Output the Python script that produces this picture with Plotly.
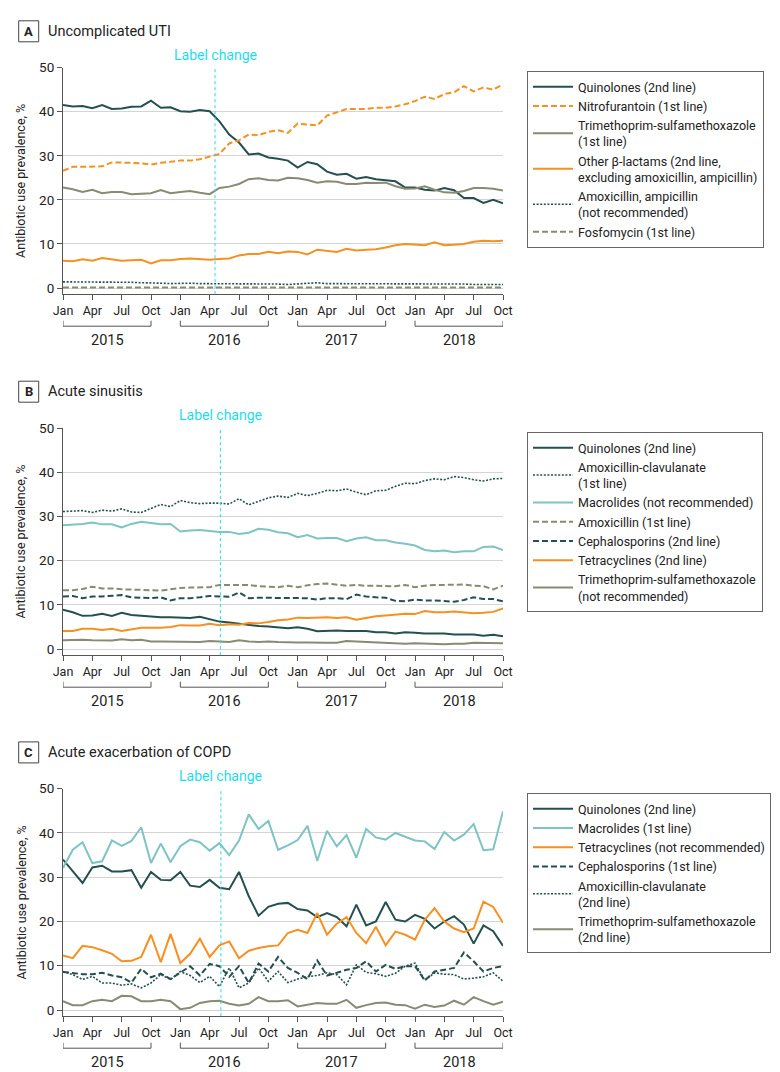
import plotly.graph_objects as go

W, H = 780, 1072
FONT = "Roboto, Arial, sans-serif"
MONTH_TICKS = ["Jan", "Apr", "Jul", "Oct"]
YEARS = ["2015", "2016", "2017", "2018"]

# ---------------- Panel A: Uncomplicated UTI ----------------
uti_quinolones = [41.5, 41.2, 41.3, 40.8, 41.5, 40.6, 40.7, 41.1, 41.2, 42.5, 40.9, 41.0, 40.1, 40.0, 40.4, 40.1,
                  37.8, 34.8, 33.0, 30.3, 30.5, 29.6, 29.3, 28.9, 27.3, 28.6, 28.1, 26.4, 25.7, 25.9, 24.8, 25.2,
                  24.7, 24.4, 24.2, 22.8, 22.8, 22.3, 22.1, 22.7, 22.2, 20.4, 20.4, 19.3, 20.0, 19.2]
uti_nitrofurantoin = [26.6, 27.5, 27.5, 27.5, 27.6, 28.5, 28.5, 28.4, 28.3, 28.0, 28.4, 28.6, 28.9, 28.9, 29.2, 29.8,
                      30.4, 32.8, 33.5, 34.8, 34.7, 35.4, 35.8, 35.2, 37.3, 37.1, 36.9, 39.1, 39.9, 40.6, 40.6, 40.6,
                      40.9, 40.9, 41.2, 41.7, 42.4, 43.4, 42.9, 44.0, 44.4, 45.8, 44.6, 45.5, 45.0, 46.2]
uti_tmp_smx = [22.8, 22.4, 21.8, 22.3, 21.5, 21.8, 21.8, 21.3, 21.4, 21.5, 22.2, 21.5, 21.8, 22.0, 21.6, 21.3,
               22.7, 23.0, 23.6, 24.7, 24.9, 24.5, 24.4, 25.0, 24.9, 24.5, 23.9, 24.2, 24.1, 23.6, 23.6, 23.9,
               23.8, 23.9, 23.1, 22.5, 22.6, 23.1, 22.3, 21.7, 21.6, 22.0, 22.7, 22.7, 22.5, 22.1]
uti_other_blactams = [6.2, 6.1, 6.5, 6.2, 6.8, 6.5, 6.2, 6.3, 6.4, 5.6, 6.3, 6.3, 6.6, 6.7, 6.6, 6.4,
                      6.6, 6.7, 7.4, 7.7, 7.7, 8.2, 7.9, 8.3, 8.2, 7.6, 8.7, 8.5, 8.2, 8.9, 8.5, 8.7,
                      8.8, 9.2, 9.7, 10.0, 9.9, 9.7, 10.4, 9.7, 9.8, 10.0, 10.5, 10.7, 10.6, 10.7]
uti_amox_amp = [1.4, 1.4, 1.4, 1.3, 1.3, 1.3, 1.3, 1.3, 1.2, 1.2, 1.1, 1.0, 1.1, 1.1, 1.0, 1.0,
                1.0, 1.0, 0.9, 1.0, 1.0, 0.9, 0.9, 0.8, 0.9, 1.0, 1.2, 1.0, 1.0, 1.0, 0.9, 0.9,
                0.9, 0.9, 0.9, 0.9, 1.0, 0.9, 0.9, 0.9, 0.9, 0.9, 0.8, 0.8, 0.9, 0.8]
uti_fosfomycin = [0.1, 0.1, 0.1, 0.1, 0.1, 0.1, 0.1, 0.1, 0.1, 0.1, 0.1, 0.1, 0.1, 0.1, 0.1, 0.1,
                  0.1, 0.1, 0.1, 0.1, 0.1, 0.1, 0.1, 0.1, 0.1, 0.1, 0.1, 0.1, 0.1, 0.1, 0.1, 0.1,
                  0.1, 0.1, 0.1, 0.1, 0.1, 0.1, 0.1, 0.1, 0.1, 0.1, 0.1, 0.1, 0.1, 0.1]

# ---------------- Panel B: Acute sinusitis ----------------
sin_quinolones = [8.9, 8.3, 7.5, 7.6, 8.0, 7.5, 8.2, 7.7, 7.5, 7.3, 7.2, 7.2, 7.1, 7.0, 7.3, 6.7,
                  6.2, 6.0, 5.7, 5.4, 5.2, 5.1, 4.9, 4.7, 4.9, 4.6, 4.0, 4.1, 4.2, 4.1, 4.1, 4.1,
                  3.8, 3.8, 3.5, 3.8, 3.7, 3.5, 3.5, 3.5, 3.3, 3.3, 3.3, 3.0, 3.2, 2.9]
sin_amox_clav = [31.1, 31.2, 31.3, 30.9, 31.4, 31.2, 31.7, 31.0, 30.9, 31.8, 32.7, 32.2, 33.6, 33.1, 32.9, 33.0,
                 33.0, 32.8, 34.0, 32.6, 33.4, 34.2, 34.6, 34.3, 35.2, 34.7, 35.2, 35.9, 35.8, 36.2, 35.5, 34.9,
                 35.8, 35.9, 36.8, 37.5, 37.4, 38.1, 38.5, 38.3, 39.0, 38.8, 38.3, 38.0, 38.5, 38.6]
sin_macrolides = [28.0, 28.1, 28.3, 28.6, 28.2, 28.2, 27.5, 28.3, 28.8, 28.5, 28.2, 28.3, 26.6, 26.8, 26.9, 26.7,
                  26.5, 26.5, 26.0, 26.3, 27.2, 27.0, 26.4, 26.2, 25.3, 25.8, 25.0, 25.1, 25.1, 24.4, 25.0, 25.3,
                  24.6, 24.6, 24.1, 23.8, 23.4, 22.4, 22.1, 22.3, 21.9, 22.1, 22.1, 23.1, 23.2, 22.4]
sin_amoxicillin = [13.3, 13.3, 13.6, 14.1, 13.7, 13.7, 13.5, 13.5, 13.4, 13.3, 13.2, 13.5, 13.8, 13.9, 14.0, 14.0,
                   14.5, 14.5, 14.5, 14.5, 14.2, 14.1, 14.0, 14.3, 14.0, 14.4, 14.7, 14.8, 14.5, 14.3, 14.5, 14.3,
                   14.3, 14.2, 14.2, 14.5, 14.0, 14.3, 14.5, 14.5, 14.6, 14.6, 14.3, 14.2, 13.5, 14.3]
sin_cephalosporins = [11.9, 12.0, 11.5, 11.9, 11.9, 12.0, 12.2, 11.7, 11.6, 11.5, 11.7, 11.0, 11.5, 11.5, 11.7, 12.0,
                      11.9, 11.8, 12.8, 11.5, 11.6, 11.6, 11.6, 11.5, 11.5, 11.5, 11.2, 11.5, 11.5, 11.3, 12.3, 11.9,
                      11.7, 11.6, 10.9, 10.8, 11.2, 11.0, 11.0, 10.9, 10.7, 11.1, 11.7, 11.3, 11.3, 10.8]
sin_tetracyclines = [4.1, 4.1, 4.6, 4.6, 4.3, 4.6, 4.1, 4.5, 4.8, 4.8, 4.8, 5.0, 5.4, 5.3, 5.3, 5.7,
                     5.4, 5.6, 5.5, 5.9, 5.8, 6.1, 6.5, 6.7, 7.1, 7.0, 7.1, 7.2, 7.0, 7.2, 6.6, 7.0,
                     7.4, 7.6, 7.8, 8.0, 7.9, 8.6, 8.3, 8.3, 8.5, 8.3, 8.1, 8.2, 8.4, 9.2]
sin_tmp_smx = [2.0, 2.1, 2.1, 2.0, 1.9, 1.9, 2.2, 2.0, 2.1, 1.7, 1.7, 1.7, 1.7, 1.7, 1.6, 1.8,
               1.7, 1.6, 2.0, 1.7, 1.6, 1.7, 1.6, 1.5, 1.5, 1.5, 1.4, 1.4, 1.4, 1.8, 1.7, 1.6,
               1.6, 1.5, 1.4, 1.2, 1.3, 1.2, 1.1, 1.1, 1.2, 1.2, 1.4, 1.4, 1.3, 1.3]

# ---------------- Panel C: Acute exacerbation of COPD ----------------
copd_quinolones = [34.0, 31.4, 28.7, 32.2, 32.6, 31.3, 31.3, 31.6, 27.6, 31.2, 29.4, 29.3, 31.2, 28.1, 27.8, 29.4,
                   27.6, 27.3, 31.2, 25.7, 21.3, 23.3, 24.0, 24.2, 22.8, 22.5, 21.0, 21.9, 21.0, 18.9, 23.8, 19.1,
                   20.0, 24.4, 20.4, 20.0, 21.5, 20.6, 18.4, 20.0, 21.2, 19.3, 15.0, 19.1, 17.8, 14.5]
copd_macrolides = [32.1, 36.2, 37.9, 33.2, 33.6, 38.3, 37.1, 38.2, 41.3, 33.2, 37.6, 33.4, 37.0, 38.5, 37.9, 36.0,
                   37.7, 35.0, 38.3, 44.2, 40.9, 42.7, 36.2, 37.2, 38.4, 41.6, 33.7, 40.5, 37.0, 39.5, 34.4, 40.9,
                   39.0, 38.5, 40.0, 39.2, 38.3, 38.1, 36.4, 40.2, 38.3, 39.6, 42.0, 36.1, 36.3, 44.9]
copd_tetracyclines = [12.3, 11.7, 14.5, 14.2, 13.5, 12.7, 11.0, 11.1, 12.0, 17.0, 10.8, 17.2, 10.6, 12.7, 16.1, 12.0,
                      14.6, 15.5, 11.7, 13.4, 14.0, 14.4, 14.6, 17.4, 18.1, 17.4, 21.9, 17.0, 19.5, 21.0, 17.4, 15.1,
                      18.8, 14.6, 17.7, 17.0, 15.9, 20.4, 23.0, 20.0, 18.4, 17.6, 18.4, 24.5, 23.3, 19.7]
copd_cephalosporins = [8.6, 8.4, 8.1, 8.1, 8.4, 7.8, 7.4, 6.2, 9.3, 7.4, 8.2, 7.0, 8.5, 9.9, 7.8, 10.4,
                       9.9, 7.5, 9.9, 6.1, 10.5, 8.7, 12.0, 9.5, 8.4, 7.0, 11.2, 7.8, 8.4, 9.1, 9.5, 11.0,
                       8.7, 10.2, 9.3, 9.9, 9.9, 6.7, 8.7, 9.1, 9.5, 13.0, 11.0, 8.7, 9.5, 9.9]
copd_amox_clav = [8.7, 8.0, 6.9, 7.6, 6.1, 6.1, 5.6, 5.9, 5.0, 6.1, 8.0, 6.9, 8.7, 7.8, 6.2, 7.6,
                  5.3, 9.5, 5.0, 6.1, 9.5, 6.5, 8.7, 6.2, 7.0, 7.5, 7.8, 8.4, 8.0, 5.7, 10.2, 8.5,
                  8.2, 7.6, 8.3, 9.9, 10.6, 6.7, 8.4, 8.1, 8.0, 7.0, 7.2, 7.5, 8.4, 6.5]
copd_tmp_smx = [2.0, 1.1, 1.1, 2.0, 2.3, 2.0, 3.2, 3.1, 2.0, 2.0, 2.3, 2.0, 0.2, 0.5, 1.6, 2.0,
                2.1, 1.4, 1.0, 1.4, 2.9, 2.0, 2.0, 2.2, 0.8, 1.2, 1.6, 1.4, 1.4, 2.3, 0.5, 1.1,
                1.6, 1.7, 1.2, 1.1, 0.3, 1.2, 0.7, 1.0, 2.1, 1.2, 2.9, 2.0, 1.2, 1.9]

# month index of the FDA label change line in each panel
LABEL_CHANGE = {"A": 15.55, "B": 16.1, "C": 16.15}

# ---------------- styles ----------------
DARK = "#24504e"
ORANGE = "#f7901e"
OLIVE = "#8a8a74"
LTEAL = "#7ec4c2"
CYAN = "#1fdcec"
DASH = "6px,3px"
DOT = "2px,1.6px"

def st(color, dash="solid", width=2.0):
    return dict(color=color, dash=dash, width=width)

panels = [
    dict(key="A", title="Uncomplicated UTI", top=59.6, bottom=286.2, legend_top=72, series=[
        ("Quinolones (2nd line)", uti_quinolones, st(DARK)),
        ("Nitrofurantoin (1st line)", uti_nitrofurantoin, st(ORANGE, DASH)),
        ("Trimethoprim-sulfamethoxazole<br>(1st line)", uti_tmp_smx, st(OLIVE)),
        ("Other β-lactams (2nd line,<br>excluding amoxicillin, ampicillin)", uti_other_blactams, st(ORANGE)),
        ("Amoxicillin, ampicillin<br>(not recommended)", uti_amox_amp, st(DARK, DOT, 1.6)),
        ("Fosfomycin (1st line)", uti_fosfomycin, st(OLIVE, DASH)),
    ]),
    dict(key="B", title="Acute sinusitis", top=420.0, bottom=647.2, legend_top=433, series=[
        ("Quinolones (2nd line)", sin_quinolones, st(DARK)),
        ("Amoxicillin-clavulanate<br>(1st line)", sin_amox_clav, st(DARK, DOT, 1.6)),
        ("Macrolides (not recommended)", sin_macrolides, st(LTEAL)),
        ("Amoxicillin (1st line)", sin_amoxicillin, st(OLIVE, DASH)),
        ("Cephalosporins (2nd line)", sin_cephalosporins, st(DARK, DASH)),
        ("Tetracyclines (2nd line)", sin_tetracyclines, st(ORANGE)),
        ("Trimethoprim-sulfamethoxazole<br>(not recommended)", sin_tmp_smx, st(OLIVE)),
    ]),
    dict(key="C", title="Acute exacerbation of COPD", top=780.7, bottom=1008.2, legend_top=794, series=[
        ("Quinolones (2nd line)", copd_quinolones, st(DARK)),
        ("Macrolides (1st line)", copd_macrolides, st(LTEAL)),
        ("Tetracyclines (not recommended)", copd_tetracyclines, st(ORANGE)),
        ("Cephalosporins (1st line)", copd_cephalosporins, st(DARK, DASH)),
        ("Amoxicillin-clavulanate<br>(2nd line)", copd_amox_clav, st(DARK, DOT, 1.6)),
        ("Trimethoprim-sulfamethoxazole<br>(2nd line)", copd_tmp_smx, st(OLIVE)),
    ]),
]

X_LEFT, X_RIGHT = 55, 495
YMIN, YMAX = -1.4, 50
LEGEND_X = 519
LEGEND_SHIFT = -9

def py(p):
    return 1 - p / H

fig = go.Figure()
layout = dict(width=W, height=H, margin=dict(l=0, r=0, t=0, b=0),
              paper_bgcolor="white", plot_bgcolor="white",
              font=dict(family=FONT, size=13, color="#222"), showlegend=True)
shapes, annotations = [], []

for k, p in enumerate(panels):
    n = "" if k == 0 else str(k + 1)
    xa, ya = "x" + n, "y" + n
    leg = "legend" + n
    nmonths = len(p["series"][0][1])
    tickvals = list(range(0, nmonths, 3))
    ticktext = [MONTH_TICKS[(v % 12) // 3] for v in tickvals]
    for name, vals, line in p["series"]:
        fig.add_trace(go.Scatter(x=list(range(len(vals))), y=vals, mode="lines", name=name,
                                 line=line, xaxis=xa, yaxis=ya, legend=leg, hoverinfo="skip"))
    layout["xaxis" + n] = dict(domain=[X_LEFT / W, X_RIGHT / W], range=[0, nmonths - 1], anchor=ya,
                               tickvals=tickvals, ticktext=ticktext, ticks="outside", ticklen=5,
                               tickcolor="#555", showline=True, linecolor="#555", linewidth=1,
                               showgrid=False, zeroline=False, automargin=False,
                               tickfont=dict(size=12.5, color="#222"))
    layout["yaxis" + n] = dict(domain=[py(p["bottom"]), py(p["top"])], range=[YMIN, YMAX], anchor=xa,
                               tickvals=[0, 10, 20, 30, 40, 50], ticks="outside", ticklen=5,
                               tickcolor="#555", showline=True, linecolor="#555", linewidth=1,
                               showgrid=True, gridcolor="#d4d4d4", gridwidth=1, zeroline=False,
                               automargin=False, tickfont=dict(size=13.5, color="#222"))
    layout[leg] = dict(x=LEGEND_X / W, y=py(p["legend_top"] + LEGEND_SHIFT), xanchor="left", yanchor="top",
                       bordercolor="#666", borderwidth=1, bgcolor="white", itemwidth=40,
                       font=dict(family=FONT, size=12.5, color="#222"), tracegroupgap=0)

    # label-change line and text
    lc = LABEL_CHANGE[p["key"]]
    shapes.append(dict(type="line", xref=xa, yref=ya + " domain", x0=lc, x1=lc, y0=0, y1=1,
                       line=dict(color=CYAN, width=1, dash="dot")))
    annotations.append(dict(x=lc, xref=xa, y=py(p["top"] - 13), yref="paper", text="Label change",
                            showarrow=False, xanchor="center", yanchor="middle",
                            font=dict(color=CYAN, size=14, family=FONT)))

    # panel letter box and title
    ty = p["top"] - 36.3
    shapes.append(dict(type="rect", xref="paper", yref="paper", x0=10.7 / W, x1=30.7 / W,
                       y0=py(ty + 10.5), y1=py(ty - 10.5), line=dict(color="#444", width=1)))
    annotations.append(dict(x=20.7 / W, y=py(ty), xref="paper", yref="paper", text="<b>%s</b>" % p["key"],
                            showarrow=False, xanchor="center", yanchor="middle",
                            font=dict(size=13, color="#222", family=FONT)))
    annotations.append(dict(x=38 / W, y=py(ty), xref="paper", yref="paper", text=p["title"],
                            showarrow=False, xanchor="left", yanchor="middle",
                            font=dict(size=14.5, color="#222", family=FONT)))

    # y-axis title
    annotations.append(dict(x=13 / W, y=py((p["top"] + p["bottom"]) / 2), xref="paper", yref="paper",
                            text="Antibiotic use prevalence, %", textangle=-90, showarrow=False,
                            xanchor="center", yanchor="middle", font=dict(size=12.5, color="#222", family=FONT)))

    # year brackets under the month ticks
    b = p["bottom"]
    for yi, year in enumerate(YEARS):
        x0, x1 = yi * 12, min(yi * 12 + 9, nmonths - 1)
        lc_ = dict(color="#555", width=1)
        shapes.append(dict(type="line", xref=xa, yref="paper", x0=x0, x1=x1, y0=py(b + 32), y1=py(b + 32), line=lc_))
        shapes.append(dict(type="line", xref=xa, yref="paper", x0=x0, x1=x0, y0=py(b + 26.5), y1=py(b + 32), line=lc_))
        shapes.append(dict(type="line", xref=xa, yref="paper", x0=x1, x1=x1, y0=py(b + 26.5), y1=py(b + 32), line=lc_))
        annotations.append(dict(x=(x0 + x1) / 2, xref=xa, y=py(b + 46), yref="paper", text=year,
                                showarrow=False, xanchor="center", yanchor="middle",
                                font=dict(size=14.5, color="#222", family=FONT)))

layout["shapes"] = shapes
layout["annotations"] = annotations
fig.update_layout(**layout)
fig.write_html("out.html")
